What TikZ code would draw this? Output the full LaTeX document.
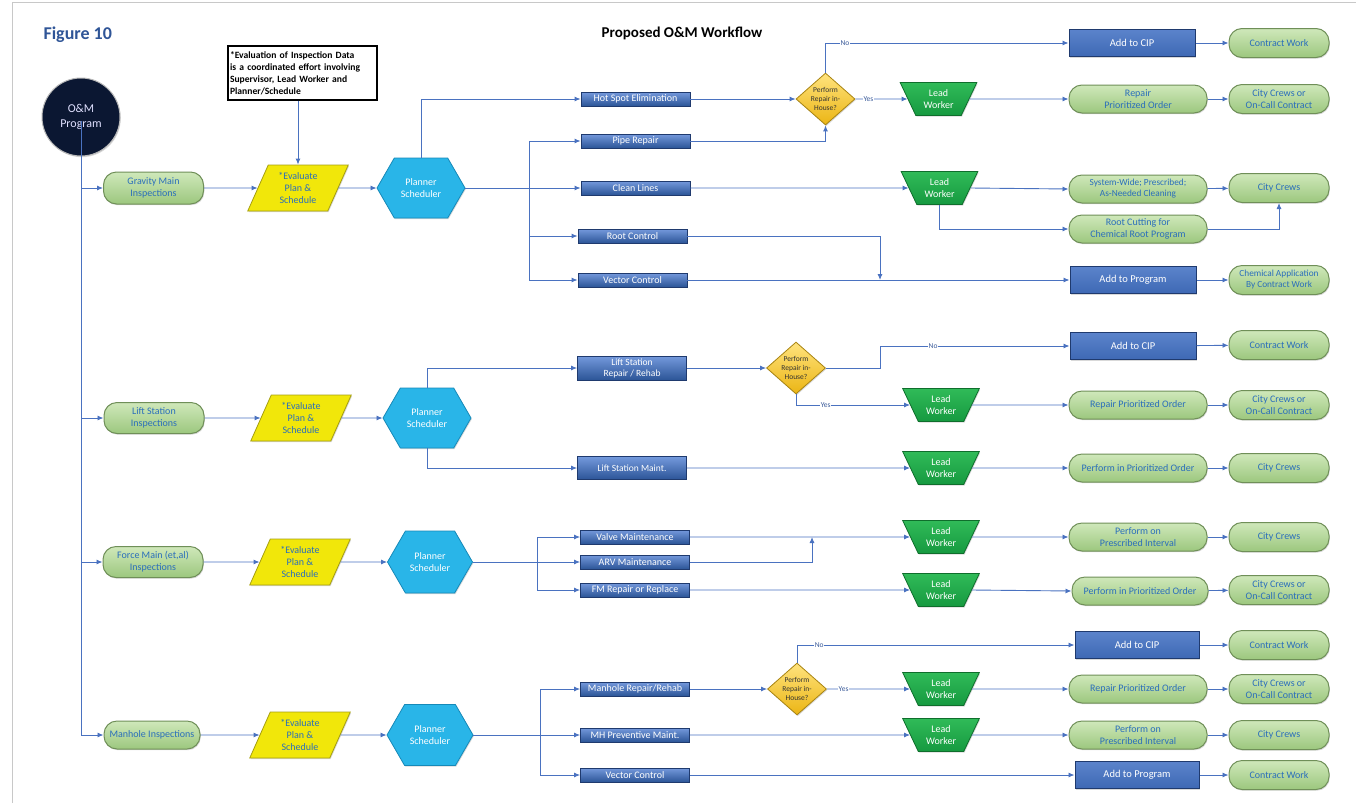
\documentclass[tikz,border=0pt]{standalone}
\usepackage{fontspec}
\setmainfont{Carlito}
\usetikzlibrary{arrows.meta,shapes.geometric,shapes.symbols,shadows,calc}

\definecolor{lineblue}{HTML}{4A72C0}
\definecolor{txtblue}{HTML}{2A6EBB}
\definecolor{pillhi}{HTML}{CFE8BA}
\definecolor{pilllo}{HTML}{9CC77E}
\definecolor{pillbd}{HTML}{6F8F58}
\definecolor{prochi}{HTML}{7499DC}
\definecolor{proclo}{HTML}{2C5597}
\definecolor{procbd}{HTML}{1F3A6E}
\definecolor{cipblue}{HTML}{4472C4}
\definecolor{leadhi}{HTML}{30BA58}
\definecolor{leadlo}{HTML}{169A40}
\definecolor{leadbd}{HTML}{0F6E2C}
\definecolor{evalfill}{HTML}{F1E70A}
\definecolor{evalbd}{HTML}{A59E10}
\definecolor{planfill}{HTML}{29B5E8}
\definecolor{planbd}{HTML}{1689B8}
\definecolor{dechi}{HTML}{FFE37E}
\definecolor{declo}{HTML}{EBB514}
\definecolor{decbd}{HTML}{A88412}
\definecolor{navy}{HTML}{0B1732}
\definecolor{figblue}{HTML}{2F5597}
\definecolor{framegray}{HTML}{C8C8C8}

\newcommand\fsz[2]{\fontsize{#1}{#2}\selectfont}

\begin{document}
\begin{tikzpicture}[x=1pt,y=-1pt,
  conn/.style={draw=lineblue, line width=0.9pt},
  arr/.style={conn, -{Latex[length=6pt,width=5pt]}},
  dshadow/.style={drop shadow={shadow xshift=0.8pt, shadow yshift=-1.2pt, opacity=0.3}},
  pill/.style={rectangle, rounded corners=13pt, top color=pillhi, bottom color=pilllo,
    draw=pillbd, line width=1pt, text=txtblue, align=center, font=\fsz{10}{12},
    inner sep=1pt, minimum width=100pt, minimum height=29pt, dshadow},
  wpill/.style={pill, minimum width=138pt},
  proc/.style={rectangle, top color=prochi, bottom color=proclo, draw=procbd,
    line width=0.8pt, text=white, font=\fsz{10}{11}, minimum width=109pt,
    minimum height=14pt, inner sep=0pt, align=center},
  cip/.style={rectangle, top color=cipblue!88!white, bottom color=cipblue!92!black,
    draw=procbd, line width=1pt, text=white, font=\fsz{10.5}{12},
    minimum width=126pt, minimum height=27pt, dshadow},
  lead/.style={trapezium, trapezium angle=61.5, shape border rotate=180,
    trapezium stretches=true, minimum width=77pt, minimum height=33pt,
    top color=leadhi, bottom color=leadlo, draw=leadbd, line width=0.8pt,
    text=white, align=center, font=\fsz{10}{12}, inner sep=0pt, dshadow},
  eval/.style={trapezium, trapezium left angle=66.5, trapezium right angle=113.5,
    trapezium stretches=true, minimum width=101pt, minimum height=46pt,
    fill=evalfill, draw=evalbd, line width=0.8pt, text=txtblue, align=center,
    font=\fsz{10}{12}, inner sep=0pt, dshadow},
  plan/.style={signal, signal to=east and west, signal pointer angle=120,
    fill=planfill, draw=planbd, line width=0.8pt, text=white, align=center,
    font=\fsz{10}{12}, minimum width=88pt, minimum height=60pt, inner sep=0pt, dshadow},
  dec/.style={diamond, aspect=1.13, top color=dechi, bottom color=declo,
    draw=decbd, line width=0.8pt, text=black!80, align=center, font=\fsz{7.5}{9},
    inner sep=-2pt, minimum width=59pt, minimum height=52pt, dshadow},
  startc/.style={circle, fill=navy, draw=gray!55, line width=1pt, text=white!88!blue,
    align=center, font=\fsz{12}{14.5}, minimum size=78pt, inner sep=0pt, dshadow},
  note/.style={rectangle, draw=black, line width=1.2pt, fill=white, align=left,
    font=\bfseries\fsz{9.6}{12}, inner sep=2pt, text width=145pt, minimum height=54pt},
  lab/.style={font=\fsz{7.5}{9}, text=lineblue!80!black, fill=white, inner sep=0.6pt}
]
\useasboundingbox (0,0) rectangle (1356,803);

% page frame
\draw[framegray, line width=1pt] (12,803) -- (12,2) -- (1356,2);

% headings
\node[anchor=west, font=\bfseries\fsz{18}{21}, text=figblue] (fig) at (40,35) {Figure 10};
\node[font=\bfseries\fsz{15}{18}] (title) at (682,33) {Proposed O\&M Workflow};
\node[note] (note) at (302.5,73) {*Evaluation of Inspection Data\\is a coordinated effort involving\\Supervisor, Lead Worker and\\Planner/Schedule};

% start
\node[startc] (om) at (81,117) {O\&M\\Program};

% ---------------- gravity main ----------------
\node[pill, minimum height=32pt] (gm) at (153.5,188) {Gravity Main\\Inspections};
\node[eval] (ev1) at (298,188) {*Evaluate\\Plan \&\\Schedule};
\node[plan] (ps1) at (421,188) {Planner\\Scheduler};
\node[proc] (hs) at (635.5,99) {Hot Spot Elimination};
\node[proc] (pr) at (635.5,141) {Pipe Repair};
\node[proc] (cl) at (635.5,188) {Clean Lines};
\node[proc] (rc) at (632.5,236) {Root Control};
\node[proc] (vc) at (632.5,280) {Vector Control};
\node[dec] (d1) at (825.5,99) {Perform\\Repair in-\\House?};
\node[cip] (ac1) at (1132,43) {Add to CIP};
\node[pill] (cw1) at (1279,43) {Contract Work};
\node[lead] (lw1) at (938.5,99) {Lead\\Worker};
\node[wpill, minimum height=28pt] (rp1) at (1138,99) {Repair\\Prioritized Order};
\node[pill] (cc1) at (1279,99) {City Crews or\\On-Call Contract};
\node[lead] (lw2) at (939.5,188) {Lead\\Worker};
\node[wpill, minimum height=28pt, font=\fsz{9.3}{11}] (sw) at (1138,189) {System-Wide; Prescribed;\\As-Needed Cleaning};
\node[pill] (ccr) at (1279,188) {City Crews};
\node[wpill, minimum height=28pt] (rcut) at (1138,229) {Root Cutting for\\Chemical Root Program};
\node[cip] (ap1) at (1133,280) {Add to Program};
\node[pill, font=\fsz{9.3}{11}] (chem) at (1279,280) {Chemical Application\\By Contract Work};

% ---------------- lift station ----------------
\node[pill, minimum height=31pt] (ls) at (154,418) {Lift Station\\Inspections};
\node[eval] (ev2) at (301,418) {*Evaluate\\Plan \&\\Schedule};
\node[plan] (ps2) at (427,418) {Planner\\Scheduler};
\node[proc, minimum height=24pt, font=\fsz{9.5}{11}] (lsr) at (632,368) {Lift Station\\Repair / Rehab};
\node[proc, minimum height=23pt, font=\fsz{9.5}{11}] (lsm) at (632,468) {Lift Station Maint.};
\node[dec] (d2) at (796,368) {Perform\\Repair in-\\House?};
\node[cip] (ac2) at (1133,346) {Add to CIP};
\node[pill] (cw2) at (1279,345) {Contract Work};
\node[lead] (lw3) at (941,405) {Lead\\Worker};
\node[wpill, minimum height=28pt] (rpo2) at (1138,405) {Repair Prioritized Order};
\node[pill] (cc2) at (1279,405) {City Crews or\\On-Call Contract};
\node[lead] (lw4) at (941,468) {Lead\\Worker};
\node[wpill, minimum height=28pt] (pio) at (1138,468) {Perform in Prioritized Order};
\node[pill] (cc3) at (1279,468) {City Crews};

% ---------------- force main ----------------
\node[pill, minimum height=31pt] (fm) at (153,562) {Force Main (et,al)\\Inspections};
\node[eval] (ev3) at (300,562) {*Evaluate\\Plan \&\\Schedule};
\node[plan, minimum width=85pt, minimum height=62pt] (ps3) at (430,562) {Planner\\Scheduler};
\node[proc] (vm) at (635,537) {Valve Maintenance};
\node[proc] (arv) at (635,562) {ARV Maintenance};
\node[proc] (fmr) at (635,590) {FM Repair or Replace};
\node[lead] (lw5) at (941,537) {Lead\\Worker};
\node[wpill, minimum height=28pt] (ppi1) at (1138,537) {Perform on\\Prescribed Interval};
\node[pill] (cc4) at (1279,537) {City Crews};
\node[lead] (lw6) at (941,590) {Lead\\Worker};
\node[wpill, minimum width=136pt, minimum height=28pt] (pio2) at (1140,591) {Perform in Prioritized Order};
\node[pill] (cc5) at (1279,590) {City Crews or\\On-Call Contract};

% ---------------- manholes ----------------
\node[pill, minimum width=96pt, minimum height=28pt] (mh) at (152,735) {Manhole Inspections};
\node[eval] (ev4) at (300,735) {*Evaluate\\Plan \&\\Schedule};
\node[plan, minimum width=86pt, minimum height=61pt] (ps4) at (430,735) {Planner\\Scheduler};
\node[proc] (mrr) at (635,689) {Manhole Repair/Rehab};
\node[proc] (mpm) at (635,735) {MH Preventive Maint.};
\node[proc] (vc2) at (635,775) {Vector Control};
\node[dec] (d3) at (797,689) {Perform\\Repair in-\\House?};
\node[cip, minimum width=124pt] (ac3) at (1137,645) {Add to CIP};
\node[pill] (cw3) at (1279,645) {Contract Work};
\node[lead] (lw7) at (941,689) {Lead\\Worker};
\node[wpill, minimum height=28pt] (rpo3) at (1138,689) {Repair Prioritized Order};
\node[pill] (cc6) at (1279,689) {City Crews or\\On-Call Contract};
\node[lead] (lw8) at (941,735) {Lead\\Worker};
\node[wpill, minimum height=28pt] (ppi2) at (1138,735) {Perform on\\Prescribed Interval};
\node[pill] (cc7) at (1279,735) {City Crews};
\node[cip, minimum width=124pt] (ap2) at (1137,775) {Add to Program};
\node[pill] (cw4) at (1279,775) {Contract Work};

% junction columns
\coordinate (j1) at (529,0);
\coordinate (j2) at (880,0);
\coordinate (j3) at (537,0);
\coordinate (j4) at (812,0);
\coordinate (j5) at (540,0);

% ---------------- connectors ----------------
% trunk, starting inside the start circle
\draw[conn] ([yshift=-4pt]om.center) -- (om.center |- mh.west);
\draw[arr] (om.center |- gm.west) -- (gm.west);
\draw[arr] (om.center |- ls.west) -- (ls.west);
\draw[arr] (om.center |- fm.west) -- (fm.west);
\draw[arr] (om.center |- mh.west) -- (mh.west);
\draw[arr] (ev1.north |- note.south) -- (ev1.north);

% gravity main
\draw[arr] (gm) -- (ev1);
\draw[arr] (ev1) -- (ps1);
\draw[arr] (ps1.north) |- (hs.west);
\draw[arr] (ps1.east) -- (cl.west);
\draw[conn] (j1 |- pr.west) -- (j1 |- vc.west);
\draw[arr] (j1 |- pr.west) -- (pr.west);
\draw[arr] (j1 |- rc.west) -- (rc.west);
\draw[arr] (j1 |- vc.west) -- (vc.west);
\draw[arr] (hs.east) -- (d1.west);
\draw[arr] (pr.east) -| (d1.south);
\draw[arr] (d1.north) |- node[lab, pos=0.54] {No} (ac1.west);
\draw[arr] (d1.east) -- node[lab, pos=0.25] {Yes} (lw1.west);
\draw[arr] (ac1) -- (cw1);
\draw[arr] (lw1.east) -- (rp1.west);
\draw[arr] (rp1) -- (cc1);
\draw[arr] (cl.east) -- (lw2.west);
\draw[arr] (lw2.east) -- (sw.west);
\draw[arr] (sw) -- (ccr);
\draw[arr] (lw2.south) |- (rcut.west);
\draw[arr] (rcut.east) -| (ccr.south);
\draw[arr] (rc.east) -| (j2 |- vc.east);
\draw[arr] (vc.east) -- (ap1.west);
\draw[arr] (ap1) -- (chem);

% lift station
\draw[arr] (ls) -- (ev2);
\draw[arr] (ev2) -- (ps2);
\draw[arr] (ps2.north) |- (lsr.west);
\draw[arr] (ps2.south) |- (lsm.west);
\draw[arr] (lsr.east) -- (d2.west);
\draw[arr] (d2.east) -- (d2.east -| j2) |- node[lab, pos=0.64] {No} (ac2.west);
\draw[arr] (d2.south) |- node[lab, pos=0.63] {Yes} (lw3.west);
\draw[arr] (ac2) -- (cw2);
\draw[arr] (lw3.east) -- (rpo2.west);
\draw[arr] (rpo2) -- (cc2);
\draw[arr] (lsm.east) -- (lw4.west);
\draw[arr] (lw4.east) -- (pio.west);
\draw[arr] (pio) -- (cc3);

% force main
\draw[arr] (fm) -- (ev3);
\draw[arr] (ev3) -- (ps3);
\draw[arr] (ps3.east) -- (arv.west);
\draw[conn] (j3 |- vm.west) -- (j3 |- fmr.west);
\draw[arr] (j3 |- vm.west) -- (vm.west);
\draw[arr] (j3 |- fmr.west) -- (fmr.west);
\draw[arr] (vm.east) -- (lw5.west);
\draw[arr] (arv.east) -| (j4 |- vm.east);
\draw[arr] (fmr.east) -- (lw6.west);
\draw[arr] (lw5.east) -- (ppi1.west);
\draw[arr] (ppi1) -- (cc4);
\draw[arr] (lw6.east) -- (pio2.west);
\draw[arr] (pio2) -- (cc5);

% manholes
\draw[arr] (mh) -- (ev4);
\draw[arr] (ev4) -- (ps4);
\draw[arr] (ps4.east) -- (mpm.west);
\draw[conn] (j5 |- mrr.west) -- (j5 |- vc2.west);
\draw[arr] (j5 |- mrr.west) -- (mrr.west);
\draw[arr] (j5 |- vc2.west) -- (vc2.west);
\draw[arr] (mrr.east) -- (d3.west);
\draw[arr] (d3.north) |- node[lab, pos=0.54] {No} (ac3.west);
\draw[arr] (d3.east) -- node[lab, pos=0.2] {Yes} (lw7.west);
\draw[arr] (ac3) -- (cw3);
\draw[arr] (lw7.east) -- (rpo3.west);
\draw[arr] (rpo3) -- (cc6);
\draw[arr] (mpm.east) -- (lw8.west);
\draw[arr] (lw8.east) -- (ppi2.west);
\draw[arr] (ppi2) -- (cc7);
\draw[arr] (vc2.east) -- (ap2.west);
\draw[arr] (ap2) -- (cw4);
\end{tikzpicture}
\end{document}
